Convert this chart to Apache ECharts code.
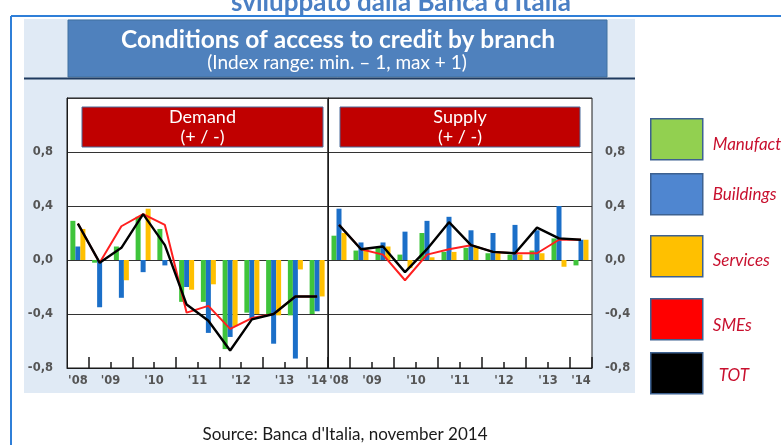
<!DOCTYPE html>
<html>
<head>
<meta charset="utf-8">
<title>Conditions of access to credit by branch</title>
<script src="https://cdn.jsdelivr.net/npm/echarts@6/dist/echarts.min.js"></script>
<style>
  html, body { margin: 0; padding: 0; background: #ffffff; }
  #chart { width: 781px; height: 445px; }
</style>
</head>
<body>
<div id="chart"></div>
<script>
// Half-year survey periods, second half 2008 to first half 2014
const periods = ['2008 H2', '2009 H1', '2009 H2', '2010 H1', '2010 H2', '2011 H1',
                 '2011 H2', '2012 H1', '2012 H2', '2013 H1', '2013 H2', '2014 H1'];
const yearLabels = ["'08", "'09", "'10", "'11", "'12", "'13", "'14"];
const yTickValues = [-0.8, -0.4, 0, 0.4, 0.8];
const seriesNames = ['Manufacturing', 'Buildings', 'Services', 'SMEs', 'TOT'];

// Demand (+ / -)
const demandManufacturing = [0.29, -0.02, 0.10, 0.32, 0.23, -0.31, -0.31, -0.66, -0.39, -0.40, -0.41, -0.40];
const demandBuildings     = [0.10, -0.35, -0.28, -0.09, -0.04, -0.20, -0.54, -0.57, -0.43, -0.62, -0.73, -0.38];
const demandServices      = [0.23, 0.00, -0.15, 0.38, 0.00, -0.22, -0.18, -0.49, -0.40, -0.41, -0.07, -0.27];
const demandSMEs          = [0.27, -0.02, 0.25, 0.34, 0.26, -0.39, -0.34, -0.51, -0.43, -0.40, -0.27, -0.27];
const demandTOT           = [0.27, -0.02, 0.09, 0.34, 0.11, -0.33, -0.45, -0.67, -0.44, -0.40, -0.27, -0.27];

// Supply (+ / -)
const supplyManufacturing = [0.18, 0.07, 0.09, 0.04, 0.20, 0.06, 0.09, 0.05, 0.04, 0.07, 0.16, -0.04];
const supplyBuildings     = [0.38, 0.13, 0.13, 0.21, 0.29, 0.32, 0.22, 0.20, 0.26, 0.22, 0.40, 0.15];
const supplyServices      = [0.20, 0.08, 0.10, -0.06, 0.02, 0.06, 0.10, 0.05, 0.04, 0.05, -0.05, 0.15];
const supplySMEs          = [0.26, 0.08, 0.04, -0.15, 0.04, 0.08, 0.11, 0.06, 0.05, 0.05, 0.15, 0.15];
const supplyTOT           = [0.26, 0.08, 0.10, -0.09, 0.08, 0.28, 0.11, 0.06, 0.05, 0.24, 0.16, 0.15];

const colors = {
  Manufacturing: '#3fc43b',
  Buildings: '#1b6fc8',
  Services: '#ffc000',
  SMEs: '#ff1f1f',
  TOT: '#000000'
};
const legendColors = {
  Manufacturing: '#92d050',
  Buildings: '#4f86d0',
  Services: '#ffc000',
  SMEs: '#ff0000',
  TOT: '#000000'
};

// Year label sits at the centre of the half-years belonging to that year
const yearOf = p => "'" + p.slice(2, 4);
const yearCenters = yearLabels.map(lab => {
  const c = periods.map((p, i) => (yearOf(p) === lab ? i + 0.5 : null)).filter(v => v !== null);
  return c.reduce((a, b) => a + b, 0) / c.length;
});
const yearLabelAt = v => {
  const k = yearCenters.findIndex(c => Math.abs(c - v) < 1e-6);
  return k >= 0 ? yearLabels[k] : '';
};
const yFormat = v => {
  if (!yTickValues.some(t => Math.abs(t - v) < 1e-6)) return '';
  return v.toFixed(1).replace('-0.0', '0.0').replace('.', ',');
};

const axisFont = { color: '#555555', fontFamily: 'DejaVu Sans', fontSize: 11.5, fontWeight: 'bold' };
const panels = [
  { left: 67, width: 261, data: [demandManufacturing, demandBuildings, demandServices, demandSMEs, demandTOT], yPos: 'left', yMargin: 14 },
  { left: 328, width: 264, data: [supplyManufacturing, supplyBuildings, supplyServices, supplySMEs, supplyTOT], yPos: 'right', yMargin: 13 }
];

const grid = [], xAxis = [], yAxis = [], series = [];
panels.forEach((p, g) => {
  grid.push({
    left: p.left, top: 98, width: p.width, height: 270,
    show: true, backgroundColor: '#ffffff', borderColor: '#1a1a1a', borderWidth: 1,
    containLabel: false, outerBoundsMode: 'none'
  });
  // year-boundary ticks (long)
  xAxis.push({
    type: 'category', gridIndex: g, data: periods, position: 'bottom', boundaryGap: true,
    axisLine: { show: true, onZero: false, lineStyle: { color: '#1a1a1a', width: 1 } },
    axisTick: { show: true, inside: true, length: 11, interval: i => i % 2 === 1, lineStyle: { color: '#1a1a1a', width: 1.5 } },
    axisLabel: { show: false }, splitLine: { show: false }
  });
  // mid-year ticks (short)
  xAxis.push({
    type: 'category', gridIndex: g, data: periods, position: 'bottom', boundaryGap: true,
    axisLine: { show: false, onZero: false },
    axisTick: { show: true, inside: true, length: 6, interval: i => i % 2 === 0 && i > 0, lineStyle: { color: '#1a1a1a', width: 1.5 } },
    axisLabel: { show: false }, splitLine: { show: false }
  });
  // year labels
  xAxis.push({
    type: 'value', gridIndex: g, min: 0, max: periods.length, position: 'bottom',
    axisLine: { show: false, onZero: false }, axisTick: { show: false }, splitLine: { show: false },
    axisLabel: { show: true, customValues: yearCenters, formatter: yearLabelAt, margin: 7, ...axisFont }
  });
  yAxis.push({
    type: 'value', gridIndex: g, min: -0.8, max: 1.2, interval: 0.4, position: p.yPos,
    axisLine: { show: true, lineStyle: { color: '#1a1a1a', width: 1 } },
    axisTick: { show: false },
    axisLabel: { show: true, formatter: yFormat, margin: p.yMargin, ...axisFont },
    splitLine: { show: true, lineStyle: { color: '#333333', width: 1.2 } }
  });
  const xi = g * 3;
  [0, 1, 2].forEach(k => {
    series.push({
      name: seriesNames[k], type: 'bar', xAxisIndex: xi, yAxisIndex: g,
      data: p.data[k], barWidth: 5, barGap: '0%',
      color: colors[seriesNames[k]], itemStyle: { color: colors[seriesNames[k]] }
    });
  });
  [3, 4].forEach(k => {
    series.push({
      name: seriesNames[k], type: 'line', xAxisIndex: xi, yAxisIndex: g,
      data: p.data[k], symbol: 'none', showSymbol: false,
      color: colors[seriesNames[k]],
      itemStyle: { color: legendColors[seriesNames[k]] },
      lineStyle: { color: colors[seriesNames[k]], width: k === 3 ? 2 : 2.4 }
    });
  });
});

// one legend block per entry, stacked down the right margin
const legendTops = [118, 173, 235, 298, 352];
const legendTextDrop = [5, 0, 4, 6, 2];
const legend = seriesNames.map((n, i) => ({
  data: [{ name: n, icon: 'rect', itemStyle: { color: legendColors[n] } }],
  orient: 'vertical', left: 650, top: legendTops[i], padding: 0,
  itemWidth: 52, itemHeight: 41, selectedMode: false,
  itemStyle: { borderColor: '#3d6190', borderWidth: 1.5 },
  formatter: name => (legendTextDrop[i] > 0 ? '{g|\u00a0}\n' : '') + '{t|' + name + '}',
  textStyle: {
    padding: [0, 0, 0, n === 'TOT' ? 11 : 5],
    rich: {
      g: { fontSize: 1, lineHeight: legendTextDrop[i] * 2, height: legendTextDrop[i] * 2 },
      t: { color: '#c8102e', fontStyle: 'italic', fontFamily: 'Lato', fontSize: 17, lineHeight: 20 }
    }
  }
}));

const graphic = [
  // cut-off heading above the frame
  { type: 'text', x: 401, y: 3, z: -5, style: { text: "sviluppato dalla Banca d'Italia", fill: '#4a7fc4',
      font: 'bold 26px Lato', align: 'center', verticalAlign: 'middle' } },
  // outer blue frame
  { type: 'line', z: -5, shape: { x1: 11, y1: 16, x2: 781, y2: 16 }, style: { stroke: '#2f7fd8', lineWidth: 2 } },
  { type: 'line', z: -5, shape: { x1: 11, y1: 16, x2: 11, y2: 445 }, style: { stroke: '#2f7fd8', lineWidth: 2 } },
  // light panel behind the charts
  { type: 'rect', z: -10, shape: { x: 24, y: 19, width: 611, height: 374 }, style: { fill: '#e0eaf5' } },
  // title box
  { type: 'rect', z: -4, shape: { x: 68, y: 20, width: 539, height: 57 }, style: { fill: '#4f81bd', stroke: '#41709f', lineWidth: 1 } },
  { type: 'text', z: -3, x: 338, y: 40, style: { text: 'Conditions of access to credit by branch', fill: '#ffffff',
      font: 'bold 24.5px Lato', align: 'center', verticalAlign: 'middle' } },
  { type: 'text', z: -3, x: 337, y: 63, style: { text: '(Index range: min. \u2013 1, max + 1)', fill: '#ffffff',
      font: '19px Lato', align: 'center', verticalAlign: 'middle' } },
  { type: 'line', z: -4, shape: { x1: 24, y1: 78.5, x2: 635, y2: 78.5 }, style: { stroke: '#1f3a5f', lineWidth: 2 } },
  // panel headers
  { type: 'rect', z: 10, shape: { x: 82, y: 107, width: 241, height: 40 }, style: { fill: '#c00000', stroke: '#4a6a9a', lineWidth: 1 } },
  { type: 'text', z: 11, x: 202.5, y: 117, style: { text: 'Demand', fill: '#ffffff', font: '18px Lato', align: 'center', verticalAlign: 'middle' } },
  { type: 'text', z: 11, x: 202.5, y: 137, style: { text: '(+ / -)', fill: '#ffffff', font: '18px Lato', align: 'center', verticalAlign: 'middle' } },
  { type: 'rect', z: 10, shape: { x: 340, y: 107, width: 240, height: 40 }, style: { fill: '#c00000', stroke: '#4a6a9a', lineWidth: 1 } },
  { type: 'text', z: 11, x: 460, y: 117, style: { text: 'Supply', fill: '#ffffff', font: '18px Lato', align: 'center', verticalAlign: 'middle' } },
  { type: 'text', z: 11, x: 460, y: 137, style: { text: '(+ / -)', fill: '#ffffff', font: '18px Lato', align: 'center', verticalAlign: 'middle' } },
  // source note
  { type: 'text', z: 1, x: 345, y: 435, style: { text: "Source: Banca d'Italia, november 2014", fill: '#1a1a1a',
      font: '17px Lato', align: 'center', verticalAlign: 'middle' } }
];

const chart = echarts.init(document.getElementById('chart'), null, { renderer: 'canvas' });
chart.setOption({
  backgroundColor: '#ffffff',
  animation: false,
  grid, xAxis, yAxis, series, legend, graphic
});
</script>
</body>
</html>
